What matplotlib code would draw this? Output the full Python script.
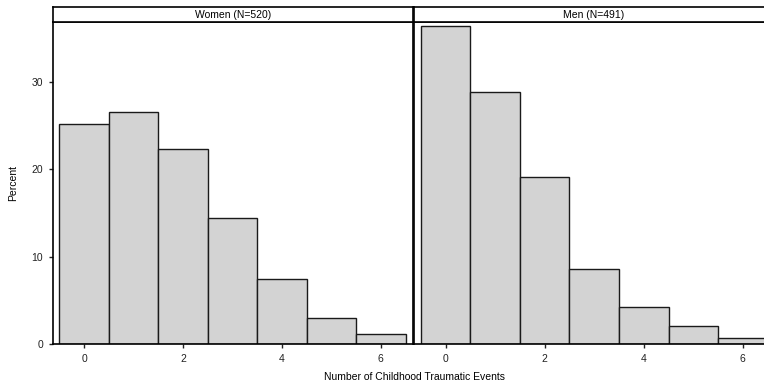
import matplotlib.pyplot as plt
import numpy as np

plt.rcParams['font.family'] = ['Liberation Sans', 'DejaVu Sans']

# --- data ---
events = [0, 1, 2, 3, 4, 5, 6]
women_pct = [25.2, 26.6, 22.3, 14.4, 7.45, 3.0, 1.15]
men_pct = [36.4, 28.9, 19.1, 8.6, 4.2, 2.1, 0.7]
panel_titles = ["Women (N=520)", "Men (N=491)"]
y_ticks = [0, 10, 20, 30]
x_ticks = [0, 2, 4, 6]

W, H = 764, 391
fig = plt.figure(figsize=(W / 100, H / 100), dpi=100)

def fx(px):
    return px / W

def fy(py):
    return 1 - py / H

plot_top, plot_bot, head_top = 22, 344, 7
panel_w = 360
lefts = [53, 414]
xlims = [(-0.63, 6.65), (-0.64, 6.63)]

for i, (vals, title) in enumerate(zip([women_pct, men_pct], panel_titles)):
    ax = fig.add_axes([fx(lefts[i]), fy(plot_bot), fx(panel_w), fy(plot_top) - fy(plot_bot)])
    ax.bar(events, vals, width=1.0, color='#d3d3d3', edgecolor='#1a1a1a', linewidth=1.0)
    ax.set_xlim(*xlims[i])
    ax.set_ylim(0, 36.9)
    ax.set_xticks(x_ticks)
    ax.tick_params(axis='both', direction='out', length=3, width=1, labelsize=7.5, pad=4, colors='#222222')
    if i == 0:
        ax.set_yticks(y_ticks)
        ax.set_ylabel("Percent", fontsize=7.5, labelpad=10)
    else:
        ax.set_yticks([])
    for s in ax.spines.values():
        s.set_linewidth(1.2)
    # header strip
    hax = fig.add_axes([fx(lefts[i]), fy(plot_top), fx(panel_w), fy(head_top) - fy(plot_top)])
    hax.set_xticks([])
    hax.set_yticks([])
    for s in hax.spines.values():
        s.set_linewidth(1.2)
    hax.text(0.5, 0.45, title, ha='center', va='center', fontsize=7.5, transform=hax.transAxes)

fig.text(fx(414), fy(377), "Number of Childhood Traumatic Events", ha='center', va='center', fontsize=7.5)

plt.savefig("out.png", dpi=100)
